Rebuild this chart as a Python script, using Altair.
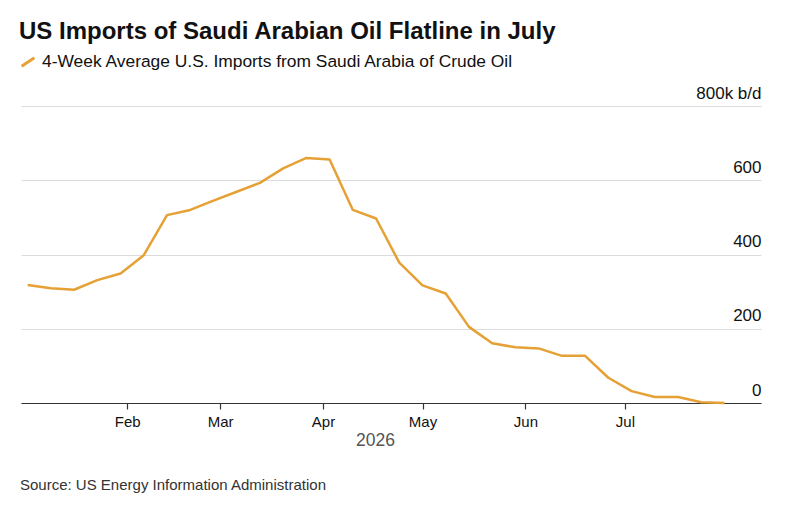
import altair as alt
import pandas as pd

dates = [
    "2026-01-02", "2026-01-09", "2026-01-16", "2026-01-23", "2026-01-30",
    "2026-02-06", "2026-02-13", "2026-02-20", "2026-02-27",
    "2026-03-06", "2026-03-13", "2026-03-20", "2026-03-27",
    "2026-04-03", "2026-04-10", "2026-04-17", "2026-04-24",
    "2026-05-01", "2026-05-08", "2026-05-15", "2026-05-22", "2026-05-29",
    "2026-06-05", "2026-06-12", "2026-06-19", "2026-06-26",
    "2026-07-03", "2026-07-10", "2026-07-17", "2026-07-24", "2026-07-31",
]
values = [
    318, 309, 305, 331, 349,
    398, 506, 520, 545,
    569, 593, 632, 660,
    656, 520, 497, 378,
    317, 295, 205, 161, 150,
    147, 127, 127, 68,
    32, 16, 16, 2, 0,
]
series_name = "4-Week Average U.S. Imports from Saudi Arabia of Crude Oil"
y_ticks = [0, 200, 400, 600, 800]
month_ticks = ["2026-02-01", "2026-03-01", "2026-04-01", "2026-05-01", "2026-06-01", "2026-07-01"]
x_domain = ["2025-12-31", "2026-08-11"]

title_text = "US Imports of Saudi Arabian Oil Flatline in July"
source_text = "Source: US Energy Information Administration"
year_label = "2026"

FONT = "Liberation Sans"
LINE_COLOR = "#e5a135"

df = pd.DataFrame({
    "date": [d + "T00:00:00" for d in dates],
    "value": values,
    "series": series_name,
})

def dt(s):
    y, m, d = s.split("-")
    return alt.DateTime(year=int(y), month=int(m), date=int(d))

W, H = 740, 297

line = alt.Chart(df).mark_line(strokeWidth=2.5, strokeJoin="round").encode(
    x=alt.X(
        "date:T",
        scale=alt.Scale(domain=[dt(x_domain[0]), dt(x_domain[1])]),
        axis=alt.Axis(
            title=year_label,
            values=[dt(m) for m in month_ticks],
            format="%b",
            grid=False,
            domainColor="#333333",
            domainWidth=1.2,
            tickColor="#333333",
            tickSize=6,
            tickWidth=1.2,
            labelFont=FONT,
            labelFontSize=15,
            labelColor="#111111",
            labelPadding=5,
            labelFlush=False,
            titleFont=FONT,
            titleFontSize=17.5,
            titleFontWeight="normal",
            titleColor="#555555",
            titlePadding=2,
            titleX=354,
            titleAlign="center",
        ),
    ),
    y=alt.Y(
        "value:Q",
        scale=alt.Scale(domain=[0, 800]),
        axis=alt.Axis(
            title=None,
            orient="right",
            values=y_ticks,
            labelExpr="datum.value == 800 ? '800k b/d' : datum.label",
            grid=True,
            gridColor="#dcdcdc",
            gridWidth=1,
            domain=False,
            ticks=False,
            labelAlign="right",
            labelBaseline="alphabetic",
            labelOffset=-8,
            labelPadding=0,
            labelFont=FONT,
            labelFontSize=17,
            labelColor="#111111",
        ),
    ),
    color=alt.Color(
        "series:N",
        scale=alt.Scale(range=[LINE_COLOR]),
        legend=alt.Legend(
            title=None,
            orient="none",
            legendX=-2,
            legendY=-53,
            symbolType="M-0.9,0.6L0.9,-0.6",
            symbolStrokeWidth=3,
            symbolSize=200,
            labelFont=FONT,
            labelFontSize=17.4,
            labelColor="#111111",
            labelOffset=5,
            labelLimit=0,
        ),
    ),
)

source = alt.Chart(pd.DataFrame({"t": [source_text]})).mark_text(
    align="left", baseline="alphabetic", font=FONT, fontSize=15, color="#333333"
).encode(
    x=alt.value(-1),
    y=alt.value(384),
    text="t:N",
)

chart = alt.layer(line, source).properties(
    width=W,
    height=H,
    background="white",
    title=alt.TitleParams(
        text=title_text,
        anchor="start",
        font=FONT,
        fontSize=24,
        fontWeight="bold",
        color="#111111",
        offset=9,
        dx=0,
    ),
    autosize=alt.AutoSizeParams(type="none"),
    padding={"left": 13, "top": 98, "right": 25, "bottom": 90},
).configure_view(strokeWidth=0, stroke=None)

chart.save("out.html", embed_options={"renderer": "svg", "actions": False})
